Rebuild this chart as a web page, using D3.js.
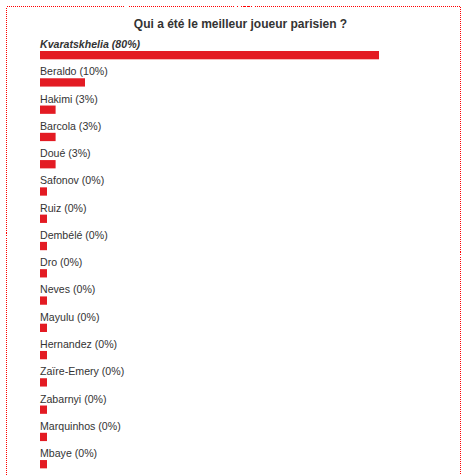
<!DOCTYPE html>
<html>
<head>
<meta charset="utf-8">
<script src="https://cdn.jsdelivr.net/npm/d3@7"></script>
<style>
  body { margin: 0; background: #fff; }
  text { font-family: "Liberation Sans", Arial, sans-serif; fill: #333; }
</style>
</head>
<body>
<div id="chart"></div>
<script>
var title = "Qui a été le meilleur joueur parisien ?";
var players = ["Kvaratskhelia", "Beraldo", "Hakimi", "Barcola", "Doué", "Safonov", "Ruiz", "Dembélé",
    "Dro", "Neves", "Mayulu", "Hernandez", "Zaïre-Emery", "Zabarnyi", "Marquinhos", "Mbaye"];
var percents = [80, 10, 3, 3, 3, 0, 0, 0, 0, 0, 0, 0, 0, 0, 0, 0];

var width = 469, height = 475;
var rowStep = 27.27;

var svg = d3.select("#chart")
    .append("svg")
    .attr("width", width)
    .attr("height", height);

// dotted frame, open at the bottom (cut off by the picture)
svg.append("rect")
    .attr("x", 6.5)
    .attr("y", 6.5)
    .attr("width", 454)
    .attr("height", 500)
    .attr("fill", "none")
    .attr("stroke", "#f00")
    .attr("stroke-width", 1)
    .attr("shape-rendering", "crispEdges")
    .attr("stroke-dasharray", "1,1");

svg.append("text")
    .attr("x", 240.5)
    .attr("y", 27.5)
    .attr("text-anchor", "middle")
    .attr("font-size", "12px")
    .attr("font-weight", "bold")
    .text(title);

var x = d3.scaleLinear()
    .domain([0, 100])
    .range([0, 420]);

var y = d3.scaleBand()
    .domain(players)
    .range([51, 51 + rowStep * players.length])
    .padding(0);

var data = players.map(function (p, i) {
    return {name: p, pct: percents[i]};
});
var best = d3.max(percents);

var rows = svg.selectAll("g.row")
    .data(data)
    .enter()
    .append("g")
    .attr("class", "row");

rows.append("text")
    .attr("x", 40)
    .attr("y", function (d) { return y(d.name) - 3; })
    .attr("font-size", "10.6px")
    .attr("font-weight", function (d) { return d.pct === best ? "bold" : "normal"; })
    .attr("font-style", function (d) { return d.pct === best ? "italic" : "normal"; })
    .text(function (d) { return d.name + " (" + d.pct + "%)"; });

rows.append("rect")
    .attr("x", 40)
    .attr("y", function (d) { return y(d.name); })
    .attr("width", function (d) { return Math.max(7, 3 + x(d.pct)); })
    .attr("height", 8.3)
    .attr("fill", "#e31b23");
</script>
</body>
</html>
